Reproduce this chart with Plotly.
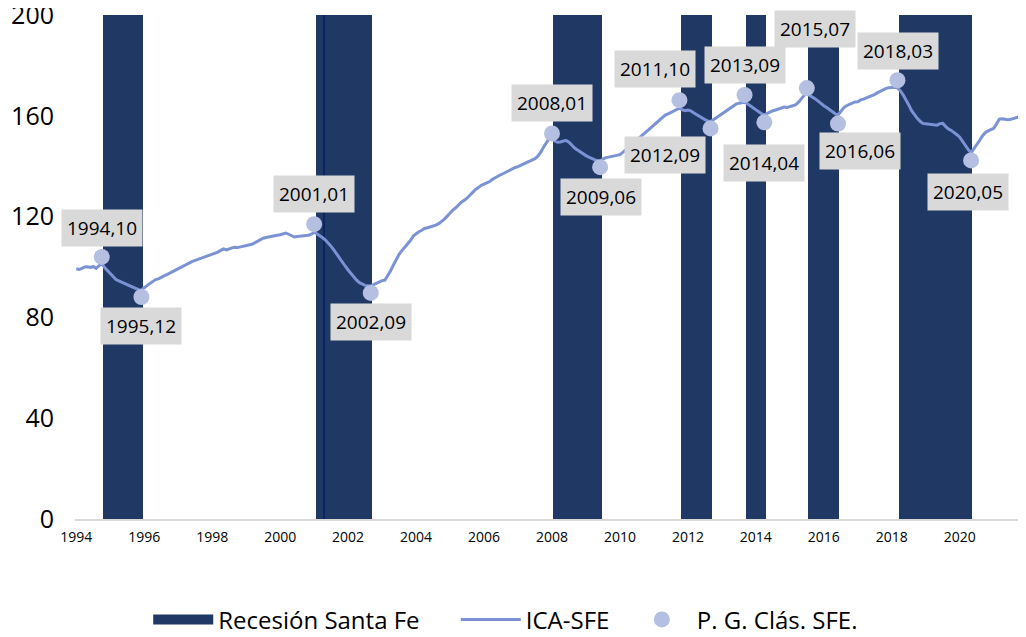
import plotly.graph_objects as go

# ---------------- data ----------------
start_year = 1994
ica_sfe = [
    # 1994
    99.3, 99.0, 99.5, 100.0, 100.1, 99.8, 100.2, 99.5, 100.5, 101.3, 99.8, 98.5,
    # 1995
    97.5, 96.0, 95.0, 94.5, 94.0, 93.3, 92.8, 92.3, 91.8, 91.3, 91.0, 90.9,
    # 1996
    91.8, 92.8, 93.5, 94.2, 95.0, 95.3, 96.0, 96.5, 97.0, 97.6, 98.2, 98.8,
    # 1997
    99.2, 99.8, 100.5, 101.0, 101.5, 102.2, 102.6, 103.0, 103.6, 104.0, 104.4, 104.8,
    # 1998
    105.2, 105.5, 105.9, 106.6, 107.2, 106.8, 107.3, 107.6, 107.8, 107.7, 108.0, 108.3,
    # 1999
    108.5, 108.6, 109.0, 109.6, 110.3, 111.0, 111.4, 111.7, 112.0, 112.3, 112.4, 112.6,
    # 2000
    112.8, 113.2, 113.5, 113.0, 112.6, 111.9, 112.1, 112.2, 112.3, 112.4, 112.6, 113.0,
    # 2001
    113.7, 113.2, 112.5, 111.6, 110.7, 109.6, 108.2, 106.7, 105.0, 103.5, 101.9, 100.3,
    # 2002
    98.8, 97.4, 96.0, 94.8, 93.8, 93.1, 92.7, 92.6, 92.5, 93.0, 93.5, 94.3,
    # 2003
    94.6, 94.8, 96.5, 98.5, 100.8, 103.0, 105.0, 106.5, 107.8, 108.8, 110.5, 112.3,
    # 2004
    113.2, 114.0, 114.6, 115.3, 115.6, 115.9, 116.3, 116.6, 117.2, 118.0, 119.0, 120.2,
    # 2005
    121.5, 122.6, 123.5, 124.8, 125.7, 126.5, 127.3, 128.5, 129.8, 130.8, 131.5, 132.4,
    # 2006
    132.9, 133.4, 133.9, 134.8, 135.5, 136.0, 136.7, 137.2, 137.8, 138.5, 139.0, 139.5,
    # 2007
    139.8, 140.3, 140.9, 141.5, 142.0, 142.5, 143.0, 144.0, 145.5, 147.5, 149.5, 151.0,
    # 2008
    151.3, 150.0, 149.5, 149.6, 150.0, 150.2, 149.5, 148.3, 147.2, 146.4, 145.6, 144.7,
    # 2009
    144.2, 143.6, 143.0, 142.6, 142.2, 142.0, 142.8, 143.4, 143.6, 143.8, 144.2, 144.5,
    # 2010
    144.6, 145.5, 146.5, 147.5, 148.6, 149.5, 150.3, 151.3, 152.5, 153.3, 154.3, 155.3,
    # 2011
    156.3, 157.3, 158.5, 159.5, 160.3, 160.8, 161.3, 161.8, 162.4, 163.0, 162.4, 162.0,
    # 2012
    162.3, 162.0, 161.2, 160.5, 159.7, 159.0, 158.5, 158.0, 157.7, 158.4, 159.2, 160.0,
    # 2013
    160.7, 161.4, 162.3, 163.2, 164.0, 164.6, 165.0, 165.2, 165.4, 164.8, 164.0, 163.2,
    # 2014
    162.3, 161.5, 160.8, 160.4, 161.0, 161.5, 162.0, 162.3, 162.7, 163.2, 163.5, 163.3,
    # 2015
    163.6, 164.0, 164.3, 165.3, 166.8, 168.0, 168.8, 168.2, 167.5, 166.7, 165.8, 164.8,
    # 2016
    164.0, 163.3, 162.4, 161.6, 160.8, 160.3, 162.0, 163.2, 164.0, 164.5, 165.0, 165.5,
    # 2017
    165.6, 166.3, 166.6, 167.0, 167.5, 168.0, 168.5, 169.2, 169.8, 170.4, 170.9, 171.1,
    # 2018
    171.2, 171.3, 171.1, 170.0, 168.3, 166.5, 164.3, 162.0, 160.3, 159.0, 157.8, 157.0,
    # 2019
    156.8, 156.7, 156.6, 156.6, 156.3, 156.9, 157.0, 155.8, 154.8, 154.2, 153.5, 152.5,
    # 2020
    151.5, 149.8, 148.3, 146.6, 145.3, 146.8, 148.5, 150.2, 152.0, 153.3, 154.0, 154.5,
    # 2021
    155.0, 156.8, 158.7, 158.8, 158.5, 158.4, 158.6, 159.0, 159.3, 159.6, 160.0, 160.3,
]

recession_start = ["1994-10", "2001-01", "2008-01", "2011-10", "2013-09", "2015-07", "2018-03"]
recession_end = ["1995-12", "2002-09", "2009-06", "2012-09", "2014-04", "2016-06", "2020-05"]
recession_top = 200

turning_labels = ["1994,10", "1995,12", "2001,01", "2002,09", "2008,01", "2009,06", "2011,10",
                  "2012,09", "2013,09", "2014,04", "2015,07", "2016,06", "2018,03", "2020,05"]
turning_values = [104.0, 88.1, 117.0, 89.7, 153.0, 139.6, 166.2,
                  155.0, 168.3, 157.4, 171.0, 156.9, 174.1, 142.3]

series_names = ["Recesión Santa Fe", "ICA-SFE", "P. G. Clás. SFE."]

# label offsets (pixels, dx right, dy down) - styling only
label_dx = [0, 0, 0, 0, 0, 1, -24, -46, 0, 0, 8, 22, 1, -3]
label_dy = [-29, 29, -30, 29, -30, 30, -31, 27, -30, 41, -59, 27, -29, 32]

x_ticks = list(range(1994, 2021, 2))
y_ticks = [0, 40, 80, 120, 160, 200]

# ---------------- helpers ----------------
def ym_to_x(s, sep="-"):
    y, m = s.split(sep)
    return int(y) + (int(m) - 1) / 12.0

BAR_COLOR = "#203864"
LINE_COLOR = "#7b92d4"
MARKER_COLOR = "#b4bfe2"
FONT = "Open Sans"
NBSP = "\u00a0"

line_x = [start_year + i / 12.0 for i in range(len(ica_sfe))]

rs = [ym_to_x(s) + 1 / 24 for s in recession_start]
re_ = [ym_to_x(s) + 1 / 24 for s in recession_end]
bar_x = [(a + b) / 2 for a, b in zip(rs, re_)]
bar_w = [b - a for a, b in zip(rs, re_)]

tp_x = [ym_to_x(s, ",") for s in turning_labels]

fig = go.Figure()

fig.add_trace(go.Bar(
    x=bar_x, y=[recession_top] * len(bar_x), width=bar_w,
    marker=dict(color=BAR_COLOR, line=dict(width=0)),
    name=series_names[0], showlegend=False,
))
# legend entry drawn as a wide block (like the reference's legend key)
fig.add_trace(go.Scatter(
    x=[None], y=[None], mode="lines",
    line=dict(color=BAR_COLOR, width=15),
    name=series_names[0] + NBSP * 5, hoverinfo="skip",
))
# thin darker stripe inside the 2001 recession bar
stripe_x = ym_to_x("2001-04") + 1 / 24
fig.add_trace(go.Bar(
    x=[stripe_x], y=[recession_top], width=[0.075],
    marker=dict(color="#0a2466", line=dict(width=0)),
    showlegend=False, hoverinfo="skip",
))

fig.add_trace(go.Scatter(
    x=line_x, y=ica_sfe, mode="lines",
    line=dict(color=LINE_COLOR, width=3),
    name=series_names[1] + NBSP * 2,
))

fig.add_trace(go.Scatter(
    x=tp_x, y=turning_values, mode="markers",
    marker=dict(color=MARKER_COLOR, size=16),
    name=series_names[2],
))

for lab, xv, yv, dx, dy in zip(turning_labels, tp_x, turning_values, label_dx, label_dy):
    fig.add_annotation(
        x=xv, y=yv, xref="x", yref="y", text=lab, showarrow=False,
        xshift=dx, yshift=-dy,
        font=dict(family=FONT, size=19, color="#000000"),
        bgcolor="#d9d9d9", borderpad=5,
    )

# page body has an 8px margin, so the figure is sized/offset to compensate
fig.update_layout(
    width=1018, height=629,
    margin=dict(l=67, r=0, t=7, b=118, autoexpand=False),
    paper_bgcolor="white", plot_bgcolor="white",
    barmode="overlay", bargap=0,
    font=dict(family=FONT, color="#000000"),
    showlegend=True,
    legend=dict(
        orientation="h", x=0.077, xanchor="left", y=-0.200, yanchor="middle",
        font=dict(family=FONT, size=24, color="#000000"),
        traceorder="normal", itemwidth=60,
    ),
    xaxis=dict(
        range=[1993.962, 2021.95],
        tickvals=x_ticks, ticktext=[str(v) for v in x_ticks],
        showgrid=False, zeroline=False,
        showline=True, linecolor="#d9d9d9", linewidth=2,
        ticks="", tickfont=dict(family=FONT, size=14, color="#000000"),
        ticklabelstandoff=4, automargin=False,
    ),
    yaxis=dict(
        range=[0, 200], tickvals=y_ticks,
        showgrid=False, zeroline=False, showline=False,
        ticks="", tickfont=dict(family=FONT, size=25, color="#000000"),
        ticklabelstandoff=20, ticklabeloverflow="allow", automargin=False,
    ),
)

fig.write_html("out.html")
